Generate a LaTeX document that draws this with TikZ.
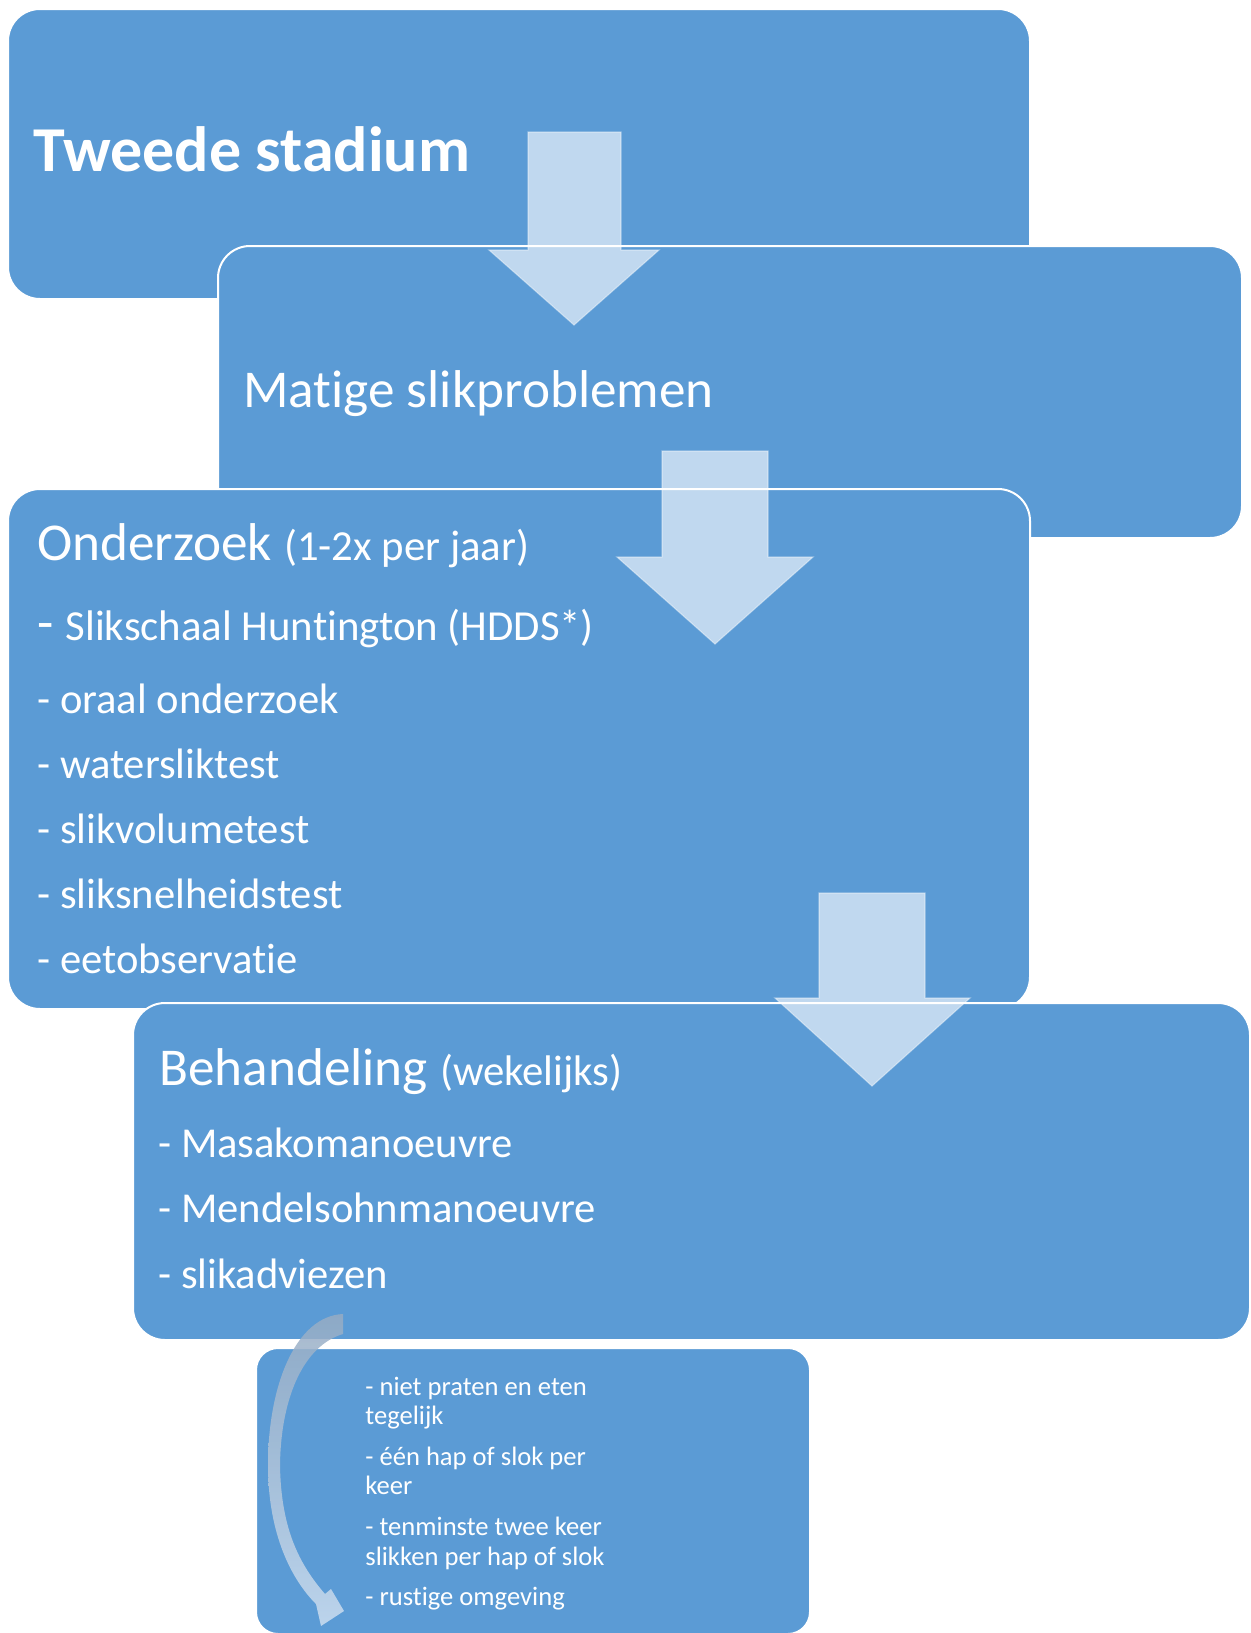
\documentclass[tikz,border=0pt]{standalone}
\usepackage{fontspec}
\setmainfont{Carlito}[Ligatures=NoCommon]
\definecolor{boxblue}{RGB}{91,155,213}
\tikzset{%
    box/.style={anchor=north west, inner sep=0pt, fill=boxblue, draw=white, line width=1pt, rounded corners=16pt},
    blockarrow/.style={fill=white, fill opacity=0.62, draw=white, draw opacity=0.4, line width=0.6pt},
    txt/.style={anchor=base west, inner sep=0pt, text=white},
    hd/.style={txt, font=\fontsize{26.6}{32}\selectfont},
    it/.style={txt, font=\fontsize{21.3}{25}\selectfont},
    sm/.style={txt, font=\fontsize{13.3}{14.5}\selectfont}
}
\newcommand{\subsz}{\fontsize{21.4}{25}\selectfont}
\begin{document}
\begin{tikzpicture}[x=0.5pt, y=-0.5pt]
            \useasboundingbox (0,0) rectangle (1250,1633);

            % draw the stacked boxes
            \node[box, minimum width=511pt, minimum height=145pt] (stadium) at (7,8){};
            \node[box, minimum width=512pt, minimum height=146pt] (matig) at (217,245){};
            \node[box, minimum width=511pt, minimum height=260pt] (onderzoek) at (7,488){};
            \node[box, minimum width=558.5pt, minimum height=168.5pt] (behandeling) at (132,1002){};
            \node[box, minimum width=277pt, minimum height=143pt, rounded corners=11pt] (adviezen) at (255,1347){};

            % block arrows between the boxes
            \filldraw[blockarrow] (528,132) -- (621,132) -- (621,250) -- (659,250) -- (574,325) -- (489,250) -- (528,250) -- cycle;
            \filldraw[blockarrow] (662,451) -- (768,451) -- (768,557) -- (813,557) -- (715,644) -- (617,557) -- (662,557) -- cycle;
            \filldraw[blockarrow] (819,893) -- (925,893) -- (925,998) -- (970,998) -- (872,1086) -- (775,998) -- (819,998) -- cycle;

            % curved arrow into the advice box
            \shade[top color={rgb,255:red,150;green,172;blue,196}, bottom color={rgb,255:red,205;green,222;blue,240}, opacity=0.85]
                (343,1314) .. controls (296,1316) and (268,1385) .. (268,1465)
                .. controls (268,1535) and (292,1580) .. (316,1604)
                -- (321,1626) -- (344,1611) -- (331,1589) -- (325,1594)
                .. controls (300,1565) and (281,1530) .. (280,1465)
                .. controls (281,1395) and (305,1345) .. (343,1334) -- cycle;

            % titles
            \node[txt, font=\fontsize{32}{38}\selectfont\bfseries] (tstadium) at (33,171){Tweede stadium};
            \node[hd] (tmatig) at (243,407){Matige slikproblemen};

            % onderzoek list
            \node[hd] (tonderzoek) at (37,560){Onderzoek {\subsz(1-2x per jaar)}};
            \node[hd] (o1) at (37,640){- {\subsz Slikschaal Huntington (HDDS*)}};
            \node[it] (o2) at (37,713){- oraal onderzoek};
            \node[it] (o3) at (37,778){- watersliktest};
            \node[it] (o4) at (37,843){- slikvolumetest};
            \node[it] (o5) at (37,908){- sliksnelheidstest};
            \node[it] (o6) at (37,973){- eetobservatie};

            % behandeling list
            \node[hd] (tbehandeling) at (159,1085){Behandeling {\subsz(wekelijks)}};
            \node[it] (b1) at (158,1157){- Masakomanoeuvre};
            \node[it] (b2) at (158,1222){- Mendelsohnmanoeuvre};
            \node[it] (b3) at (158,1288){- slikadviezen};

            % advice lines
            \node[sm] (a1) at (365,1395){- niet praten en eten};
            \node[sm] (a2) at (365,1424){tegelijk};
            \node[sm] (a3) at (365,1465){- één hap of slok per};
            \node[sm] (a4) at (365,1494){keer};
            \node[sm] (a5) at (365,1535){- tenminste twee keer};
            \node[sm] (a6) at (365,1565){slikken per hap of slok};
            \node[sm] (a7) at (365,1605){- rustige omgeving};
\end{tikzpicture}
\end{document}
